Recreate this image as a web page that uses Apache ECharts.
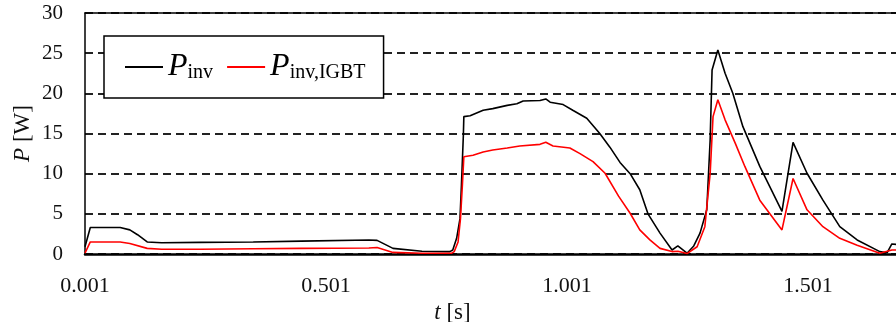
<!DOCTYPE html>
<html>
<head>
<meta charset="utf-8">
<script src="https://cdn.jsdelivr.net/npm/echarts@6/dist/echarts.min.js"></script>
<style>
	html, body { margin: 0; padding: 0; background: #fff; }
	#chart { width: 896px; height: 322px; }
</style>
</head>
<body>
<div id="chart"></div>
<script>
	// 時刻 [s] と電力 [W]
	var T0 = 0.001; // 横軸の開始時刻
	var tInv = [0.001, 0.012, 0.074, 0.094, 0.11, 0.13, 0.16, 0.24, 0.35, 0.45, 0.59, 0.607, 0.64, 0.70, 0.758,
		0.764, 0.772, 0.779, 0.782, 0.786, 0.787, 0.80, 0.827, 0.847, 0.877, 0.897, 0.910, 0.945, 0.957, 0.966,
		0.993, 1.013, 1.042, 1.069, 1.090, 1.111, 1.132, 1.152, 1.169, 1.194, 1.219, 1.231, 1.250, 1.264, 1.277,
		1.291, 1.298, 1.302, 1.314, 1.329, 1.345, 1.366, 1.401, 1.447, 1.470, 1.499, 1.532, 1.567, 1.603, 1.650,
		1.665, 1.675, 1.684];
	var pInv = [0.9, 3.3, 3.3, 3.0, 2.4, 1.5, 1.4, 1.45, 1.5, 1.6, 1.75, 1.7, 0.7, 0.35, 0.3,
		0.5, 1.95, 4.4, 8.6, 14.8, 17.1, 17.2, 17.9, 18.1, 18.5, 18.7, 19.05, 19.1, 19.3, 18.9,
		18.6, 17.9, 16.9, 15.0, 13.3, 11.4, 10.0, 8.0, 5.0, 2.6, 0.5, 1.0, 0.1, 1.0, 2.6,
		5.5, 14.2, 22.9, 25.4, 22.5, 20.0, 15.85, 10.9, 5.3, 13.9, 10.05, 6.7, 3.4, 1.75, 0.3,
		0.15, 1.25, 1.2];
	var tIgbt = [0.001, 0.012, 0.074, 0.094, 0.13, 0.16, 0.24, 0.35, 0.45, 0.59, 0.607, 0.64, 0.70, 0.762,
		0.767, 0.775, 0.780, 0.784, 0.787, 0.806, 0.827, 0.847, 0.877, 0.903, 0.945, 0.957, 0.972, 1.007,
		1.028, 1.055, 1.080, 1.108, 1.132, 1.152, 1.173, 1.194, 1.219, 1.231, 1.250, 1.271, 1.287, 1.298,
		1.304, 1.314, 1.329, 1.350, 1.370, 1.401, 1.447, 1.470, 1.499, 1.532, 1.567, 1.603, 1.650, 1.675, 1.684];
	var pIgbt = [0.1, 1.5, 1.5, 1.3, 0.7, 0.6, 0.6, 0.65, 0.7, 0.75, 0.8, 0.2, 0.1, 0.1,
		0.3, 1.5, 4.4, 8.6, 12.1, 12.3, 12.7, 12.95, 13.2, 13.45, 13.65, 13.9, 13.45, 13.2,
		12.5, 11.5, 10.05, 7.2, 5.07, 3.0, 1.75, 0.7, 0.3, 0.35, 0.05, 0.9, 3.4, 10.0,
		17.1, 19.2, 16.7, 13.8, 10.9, 6.7, 3.0, 9.4, 5.5, 3.4, 1.95, 1.1, 0.1, 0.5, 0.5];
	var yTicks = [0, 5, 10, 15, 20, 25, 30];

	var FONT = '"Liberation Serif", "Times New Roman", serif';

	function toPairs(ts, ps) {
		var arr = [];
		for (var i = 0; i < ts.length; i++) {
			arr.push([ts[i] - T0, ps[i]]);
		}
		return arr;
	}

	var legendRich = {
		p: { fontFamily: FONT, fontStyle: 'italic', fontSize: 32, lineHeight: 32, verticalAlign: 'bottom', color: '#000' },
		s: { fontFamily: FONT, fontSize: 20, lineHeight: 14, verticalAlign: 'bottom', color: '#000' }
	};
	var nameRich = {
		i: { fontFamily: FONT, fontStyle: 'italic', fontSize: 23, color: '#111' },
		n: { fontFamily: FONT, fontSize: 23, color: '#111' }
	};

	var myChart = echarts.init(document.getElementById('chart'), null, { renderer: 'canvas' });
	var option = {
		animation: false,
		backgroundColor: '#fff',
		grid: { left: 85, right: 0, top: 13, bottom: 68, outerBoundsMode: 'none' },
		legend: {
			left: 104,
			top: 36,
			padding: [15, 18, 15, 21],
			icon: 'rect',
			itemWidth: 38,
			itemHeight: 1.8,
			itemGap: 14,
			backgroundColor: '#fff',
			borderColor: '#000',
			borderWidth: 1.5,
			borderRadius: 0,
			data: ['inv', 'igbt'],
			formatter: function (name) {
				return name === 'inv' ? '{p|P}{s|inv}' : '{p|P}{s|inv,IGBT}';
			},
			textStyle: { rich: legendRich }
		},
		xAxis: [{
			type: 'value',
			min: 0,
			max: 1.6826,
			interval: 0.5,
			name: '{i|t}{n| [s]}',
			nameLocation: 'middle',
			nameGap: 38,
			nameTextStyle: { rich: nameRich, padding: [0, 76, 0, 0] },
			axisLine: { lineStyle: { color: '#000', width: 2.5 } },
			axisTick: { show: false },
			splitLine: { show: false },
			axisLabel: {
				margin: 21,
				showMaxLabel: false,
				fontFamily: FONT,
				fontSize: 22,
				color: '#111',
				formatter: function (v) { return (v + T0).toFixed(3); }
			}
		}, {
			type: 'value',
			position: 'top',
			min: 0,
			max: 1.6826,
			axisLine: { show: true, lineStyle: { color: '#000', width: 1.5 } },
			axisTick: { show: false },
			axisLabel: { show: false },
			splitLine: { show: false }
		}],
		yAxis: {
			type: 'value',
			min: yTicks[0],
			max: yTicks[yTicks.length - 1],
			interval: 5,
			name: '{i|P}{n| [W]}',
			nameLocation: 'middle',
			nameGap: 51,
			nameMoveOverlap: false,
			nameTextStyle: { rich: nameRich },
			axisLine: { show: true, lineStyle: { color: '#000', width: 1.5 } },
			axisTick: { show: false },
			axisLabel: {
				margin: 22,
				fontFamily: FONT,
				fontSize: 21,
				color: '#111'
			},
			splitLine: {
				show: true,
				lineStyle: { color: '#222', width: 2, type: [8, 5] }
			}
		},
		series: [{
			name: 'inv',
			type: 'line',
			symbol: 'none',
			color: '#000',
			lineStyle: { color: '#000', width: 1.6 },
			data: toPairs(tInv, pInv)
		}, {
			name: 'igbt',
			type: 'line',
			symbol: 'none',
			color: '#ff0000',
			lineStyle: { color: '#ff0000', width: 1.6 },
			data: toPairs(tIgbt, pIgbt)
		}]
	};
	myChart.setOption(option);
</script>
</body>
</html>
